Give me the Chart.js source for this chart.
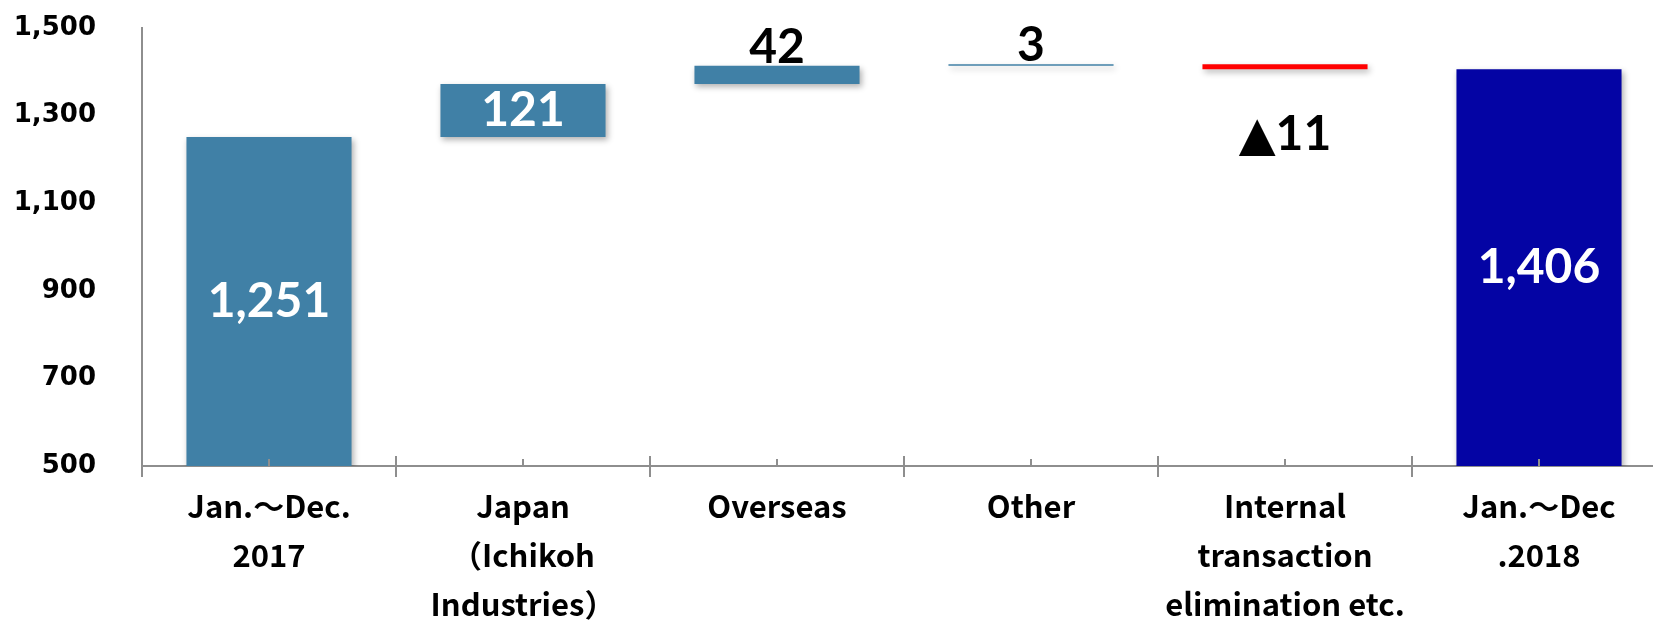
<!DOCTYPE html>
<html>
<head>
<meta charset="utf-8">
<script src="https://cdn.jsdelivr.net/npm/chart.js@4.4.1/dist/chart.umd.min.js"></script>
<style>
  html, body { margin: 0; padding: 0; background: #fff; overflow: hidden; }
  #wrap { width: 1666px; height: 623px; }
</style>
</head>
<body>
<div id="wrap"><canvas id="waterfall"></canvas></div>
<script>
const categories = [
  ['Jan.～Dec.', '2017'],
  ['Japan', '（Ichikoh', 'Industries）'],
  ['Overseas'],
  ['Other'],
  ['Internal', 'transaction', 'elimination etc.'],
  ['Jan.～Dec', '.2018']
];
const amounts = [1251, 121, 42, 3, -11, 1406];
const kinds = ['total', 'step', 'step', 'step', 'step', 'total'];
const yTicks = [500, 700, 900, 1100, 1300, 1500];

// floating bars: totals start at the axis, steps start where the last bar ended
let running = 0;
const ranges = amounts.map((v, i) => {
  if (kinds[i] === 'total') { running = v; return [yTicks[0], v]; }
  const from = running;
  running += v;
  return [from, running];
});

const colors = amounts.map((v, i) => {
  if (kinds[i] === 'total' && i === amounts.length - 1) return '#0404a4';
  if (v < 0) return '#ff0000';
  return '#4080a6';
});

const AXIS = '#8e8e8e';

const barShadow = {
  id: 'barShadow',
  beforeDatasetsDraw(chart) {
    const c = chart.ctx;
    c.save();
    c.shadowColor = 'rgba(0,0,0,0.3)';
    c.shadowBlur = 6;
    c.shadowOffsetX = 2;
    c.shadowOffsetY = 3;
  },
  afterDatasetsDraw(chart) {
    chart.ctx.restore();
  }
};

const valueLabels = {
  id: 'valueLabels',
  afterDatasetsDraw(chart) {
    const {ctx} = chart;
    const bars = chart.getDatasetMeta(0).data;
    ctx.save();
    ctx.font = 'bold 48px Lato, "DejaVu Sans", sans-serif';
    ctx.textAlign = 'center';
    bars.forEach((bar, i) => {
      const v = amounts[i];
      const txt = (v < 0 ? '▲' : '') + Math.abs(v).toLocaleString('en-US');
      const top = Math.min(bar.y, bar.base);
      const bottom = Math.max(bar.y, bar.base);
      if (bottom - top > 40) {
        ctx.fillStyle = '#fff';
        ctx.textBaseline = 'middle';
        ctx.fillText(txt, bar.x, (top + bottom) / 2);
      } else if (v >= 0) {
        ctx.fillStyle = '#000';
        ctx.textBaseline = 'alphabetic';
        ctx.fillText(txt, bar.x, top - 3);
      } else {
        ctx.fillStyle = '#000';
        ctx.textBaseline = 'middle';
        ctx.fillText(txt, bar.x, bottom + 65);
      }
    });
    ctx.restore();
  }
};

// small marks above the x axis: at category centres and between categories
const axisMarks = {
  id: 'axisMarks',
  afterDraw(chart) {
    const {ctx, scales: {x}} = chart;
    const y0 = x.top;
    const half = (x.getPixelForValue(1) - x.getPixelForValue(0)) / 2;
    ctx.save();
    ctx.strokeStyle = AXIS;
    ctx.lineWidth = 2;
    ctx.beginPath();
    categories.forEach((c, i) => {
      const cx = x.getPixelForValue(i);
      ctx.moveTo(cx, y0);
      ctx.lineTo(cx, y0 - 7);
      if (i > 0) {
        ctx.moveTo(cx - half, y0);
        ctx.lineTo(cx - half, y0 - 10);
      }
    });
    ctx.stroke();
    ctx.restore();
  }
};

const ctx = document.getElementById('waterfall').getContext('2d');
new Chart(ctx, {
  type: 'bar',
  data: {
    labels: categories,
    datasets: [{
      data: ranges,
      backgroundColor: colors,
      borderWidth: 0,
      barPercentage: 0.65,
      categoryPercentage: 1
    }]
  },
  options: {
    responsive: true,
    maintainAspectRatio: false,
    animation: false,
    layout: { padding: { top: 28, left: 0, right: 0, bottom: 0 } },
    plugins: {
      legend: { display: false },
      tooltip: { enabled: false }
    },
    scales: {
      x: {
        z: 1,
        grid: { offset: true, drawOnChartArea: false, tickLength: 11, color: AXIS, lineWidth: 2 },
        border: { color: AXIS, width: 2 },
        ticks: {
          color: '#000',
          font: { family: '"Noto Sans CJK JP", sans-serif', weight: 'bold', size: 31, lineHeight: 1.58 },
          padding: 5,
          maxRotation: 0,
          autoSkip: false
        },
        afterFit(s) { s.height = 623 - 466; }
      },
      y: {
        min: yTicks[0],
        max: yTicks[yTicks.length - 1],
        grid: { display: false, drawTicks: false },
        border: { color: AXIS, width: 2 },
        afterBuildTicks(s) { s.ticks = yTicks.map(v => ({ value: v })); },
        ticks: {
          color: '#000',
          font: { family: '"DejaVu Sans", sans-serif', weight: 'bold', size: 26 },
          padding: 46,
          callback: v => v.toLocaleString('en-US')
        },
        afterFit(s) {
          s.width = 142;
          s.paddingTop = 0;
          s.paddingBottom = 0;
        }
      }
    }
  },
  plugins: [barShadow, valueLabels, axisMarks]
});
</script>
</body>
</html>
